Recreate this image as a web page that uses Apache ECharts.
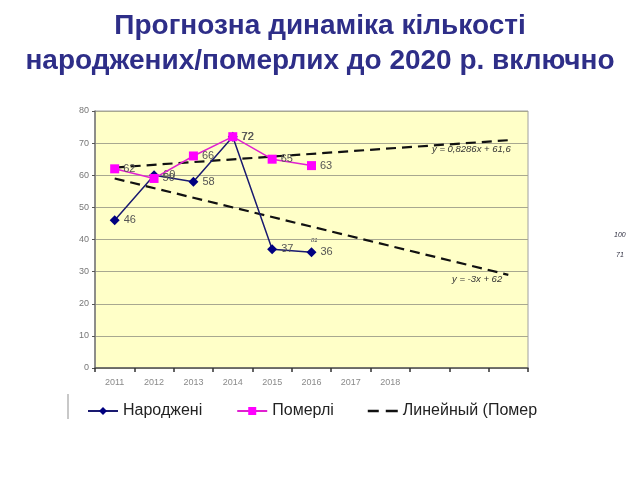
<!DOCTYPE html>
<html>
<head>
<meta charset="utf-8">
<script src="https://cdn.jsdelivr.net/npm/echarts@6/dist/echarts.min.js"></script>
<style>html,body{margin:0;padding:0;background:#fff;}#c{width:640px;height:480px;}</style>
</head>
<body>
<div id="c"></div>
<script>
var categories = ['2011','2012','2013','2014','2015','2016','2017','2018','','',''];
var births = [46, 60, 58, 72, 37, 36];
var deaths = [62, 59, 66, 72, 65, 63];
// linear trend endpoints (x index 0 .. 10)
var birthTrend = [[0, 59], [10, 29]];
var deathTrend = [[0, 62.4], [10, 70.9]];
var yTicks = {min: 0, max: 80, interval: 10};

var chart = echarts.init(document.getElementById('c'), null, {renderer: 'canvas'});
var lbl = {show: true, position: 'right', distance: 4, color: '#555', fontSize: 11, fontFamily: 'Liberation Sans, Arial'};
chart.setOption({
  animation: false,
  title: {
    text: 'Прогнозна динаміка кількості\nнароджених/померлих до 2020 р. включно',
    left: 'center', top: 4,
    textStyle: {fontFamily: 'Liberation Sans, Arial', fontWeight: 'bold', fontSize: 28, color: '#2e2e88', lineHeight: 35}
  },
  grid: {left: 95, right: 112, top: 111, bottom: 112, show: true, backgroundColor: '#ffffc8', borderColor: '#a0a0a0', borderWidth: 1},
  legend: {
    left: 82, top: 398, itemWidth: 30, itemHeight: 10, itemGap: 34,
    data: ['Народжені', 'Померлі', {name: 'Линейный (Померлі)', icon: 'path://M0,4h11v2.4h-11z M18,4h12v2.4h-12z'}],
    formatter: function (n) { return n.indexOf('Линейный') === 0 ? 'Линейный (Помер' : n; },
    textStyle: {fontSize: 16, color: '#222', fontFamily: 'Liberation Sans, Arial'}
  },
  xAxis: {
    type: 'category', data: categories, boundaryGap: true,
    axisLine: {lineStyle: {color: '#555', width: 1.5}},
    axisTick: {show: true, length: 4, lineStyle: {color: '#333', width: 1.5}},
    axisLabel: {color: '#8a8a8a', fontSize: 9, margin: 10, fontFamily: 'Liberation Sans, Arial'}
  },
  yAxis: {
    type: 'value', min: yTicks.min, max: yTicks.max, interval: yTicks.interval,
    axisLine: {show: true, lineStyle: {color: '#777', width: 1.5}},
    axisTick: {show: true, length: 3, lineStyle: {color: '#555'}},
    axisLabel: {color: '#777', fontSize: 9, margin: 6, fontFamily: 'Liberation Sans, Arial'},
    splitLine: {lineStyle: {color: '#a8a890', width: 1}}
  },
  series: [
    {name: 'Линейный (Народжені)', type: 'line', data: birthTrend, symbol: 'none', z: 1,
     lineStyle: {color: '#111', width: 2.2, type: [10, 6]}},
    {name: 'Линейный (Померлі)', type: 'line', data: deathTrend, symbol: 'none', z: 1,
     itemStyle: {color: '#111'},
     lineStyle: {color: '#111', width: 2.2, type: [10, 6]}},
    {name: 'Народжені', type: 'line', data: births, symbol: 'diamond', symbolSize: 10, z: 3,
     itemStyle: {color: '#000080'}, lineStyle: {color: '#1a1a70', width: 1.5}, label: lbl},
    {name: 'Померлі', type: 'line', data: deaths, symbol: 'rect', symbolSize: 9, z: 4,
     itemStyle: {color: '#ff00ff'}, lineStyle: {color: '#e020d0', width: 1.5}, label: lbl}
  ],
  graphic: [
    {type: 'line', shape: {x1: 68, y1: 394, x2: 68, y2: 419}, style: {stroke: '#c8c8c8', lineWidth: 2}},
    {type: 'text', left: 432, top: 144, style: {text: 'y = 0,8286x + 61,6', fill: '#333', font: 'italic 9.5px Liberation Sans, Arial'}},
    {type: 'text', left: 452, top: 274, style: {text: 'y = -3x + 62', fill: '#333', font: 'italic 9.5px Liberation Sans, Arial'}},
    {type: 'text', left: 311, top: 237, style: {text: '81', fill: '#334', font: 'italic 6px Liberation Sans, Arial'}},
    {type: 'text', left: 614, top: 232, style: {text: '100', fill: '#334', font: 'italic 7px Liberation Sans, Arial'}},
    {type: 'text', left: 616, top: 252, style: {text: '71', fill: '#334', font: 'italic 7px Liberation Sans, Arial'}}
  ]
});
</script>
</body>
</html>
